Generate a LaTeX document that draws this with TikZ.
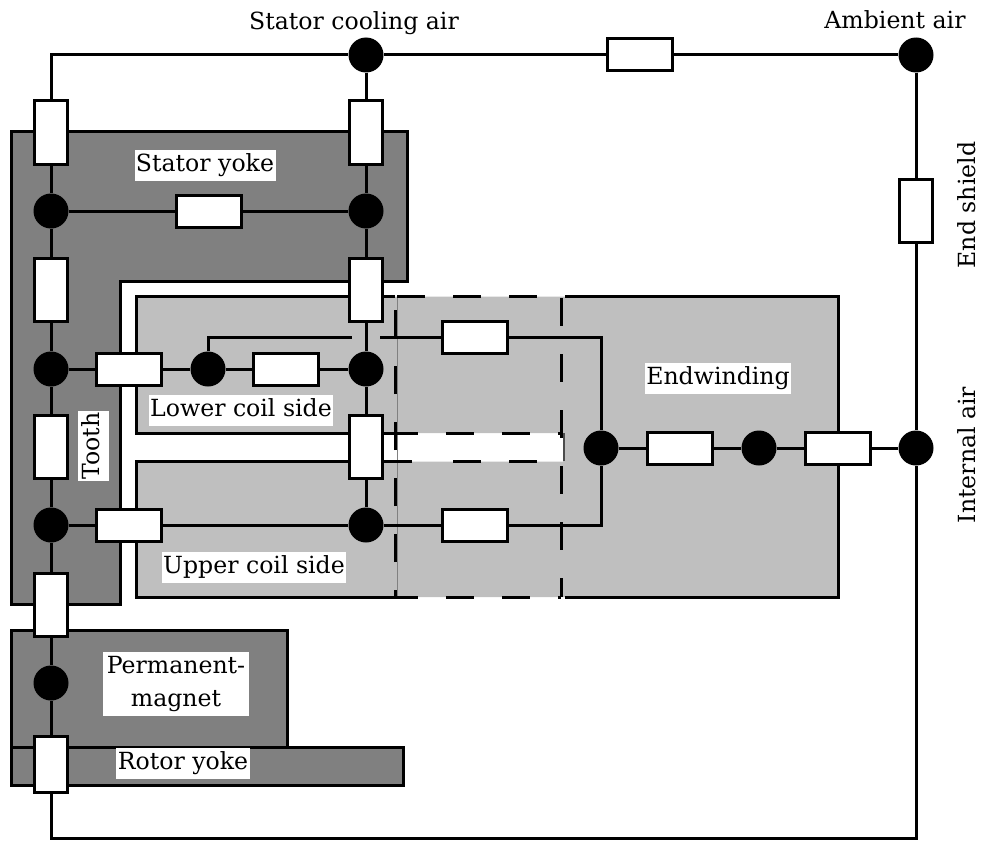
\documentclass[tikz,border=0pt]{standalone}
\usepackage{fontspec}
\setmainfont{DejaVu Serif}
\usetikzlibrary{positioning}
\tikzset{
    wire/.style={draw, line width=3pt},
    junction/.style={circle, fill=black, minimum size=35pt, inner sep=0pt},
    hres/.style={rectangle, draw, fill=white, line width=3pt, minimum width=65pt, minimum height=32pt, inner sep=0pt},
    vres/.style={rectangle, draw, fill=white, line width=3pt, minimum width=33pt, minimum height=63pt, inner sep=0pt},
    part/.style={draw, line width=3pt, fill=yokegray},
    tag/.style={fill=white, inner xsep=1.5pt, inner ysep=0.5pt, anchor=base, text height=21pt, text depth=9.5pt, font=\fontsize{23.6}{33}\selectfont},
    plaintag/.style={inner sep=0pt, anchor=base, font=\fontsize{23.6}{28}\selectfont},
    magnettag/.style={tag, text width=143pt, align=center, text depth=12pt},
    slotline/.style={line width=3pt, dash pattern=on 28pt off 28pt}
}
\definecolor{yokegray}{gray}{0.5}
\definecolor{coilgray}{gray}{0.75}
\begin{document}
\begin{tikzpicture}[x=1pt, y=-1pt]
    \useasboundingbox (0,0) rectangle (981,840);
    % iron parts
    \draw[part] (11.5,131) -- (407,131) -- (407,281) -- (120.5,281) -- (120.5,604) -- (11.5,604) -- cycle;
    \draw[part] (11.5,630) rectangle (287,747);
    \draw[part] (11.5,747) rectangle (403,785);
    % coil
    \fill[coilgray] (136,296.5) -- (838,296.5) -- (838,597) -- (136,597) -- (136,461.5) -- (563,461.5) -- (563,433) -- (136,433) -- cycle;
    \draw[line width=3pt] (395,296.5) -- (136,296.5) -- (136,433) -- (395,433);
    \draw[line width=3pt] (395,461.5) -- (136,461.5) -- (136,597) -- (395,597);
    \draw[line width=3pt] (565,296.5) -- (838,296.5) -- (838,597) -- (565,597);
    \draw[gray, line width=0.8pt] (397,296) -- (397,597);
    \draw[gray!60!black, line width=1.2pt] (564,433) -- (564,461);
    \draw[slotline] (397,296.5) -- (565,296.5);
    \draw[slotline] (384,461.5) -- (425,461.5);
    \draw[slotline] (453,461.5) -- (565,461.5);
    \draw[slotline, dash phase=5pt] (395,433) -- (563,433);
    \draw[slotline, dash phase=5pt] (395,597) -- (561,597);
    \draw[slotline, dash phase=21pt] (395,597) -- (395,296.5);
    \draw[slotline] (561,298) -- (561,597);

    % nodes of the network
    \node[junction] (SC) at (366,55) {};
    \node[junction] (AA) at (916,55) {};
    \node[junction] (YL) at (51,211) {};
    \node[junction] (YR) at (366,211) {};
    \node[junction] (TU) at (51,369) {};
    \node[junction] (LI) at (208,369) {};
    \node[junction] (LO) at (366,369) {};
    \node[junction] (TB) at (51,525) {};
    \node[junction] (UO) at (366,525) {};
    \node[junction] (PM) at (51,683) {};
    \node[junction] (EA) at (601,448) {};
    \node[junction] (EB) at (759,448) {};
    \node[junction] (IA) at (916,448) {};

    \node[hres] (R1) at (640,55) {};
    \node[vres] (R2) at (916,211) {};
    \node[vres] (R3) at (51,132.5) {};
    \node[vres] (R4) at (366,132.5) {};
    \node[hres] (R5) at (209,211) {};
    \node[vres] (R6) at (51,290) {};
    \node[vres] (R7) at (366,290) {};
    \node[hres] (R8) at (129,369) {};
    \node[hres] (R9) at (286,369) {};
    \node[hres] (R10) at (475,337) {};
    \node[vres] (R11) at (51,447) {};
    \node[vres] (R12) at (366,447) {};
    \node[hres] (R13) at (129,525) {};
    \node[hres] (R14) at (475,525) {};
    \node[hres] (R15) at (680,448) {};
    \node[hres] (R16) at (838,448) {};
    \node[vres] (R17) at (51,604.5) {};
    \node[vres, minimum height=56pt] (R18) at (51,764.5) {};

    \coordinate (CTL) at (51,55);
    \coordinate (CBL) at (51,838);
    \coordinate (CBR) at (916,838);
    \coordinate (JL) at (352,337);
    \coordinate (JR) at (380,337);

    % connections
    \draw[wire] (R3) -- (CTL) -- (SC) -- (R1) -- (AA) -- (R2) -- (IA);
    \draw[wire] (SC) -- (R4) -- (YR) -- (R7) -- (LO) -- (R12) -- (UO);
    \draw[wire] (R3) -- (YL) -- (R6) -- (TU) -- (R11) -- (TB) -- (R17) -- (PM) -- (R18) -- (CBL) -- (CBR) -- (IA);
    \draw[wire] (YL) -- (R5) -- (YR);
    \draw[wire] (TU) -- (R8) -- (LI) -- (R9) -- (LO);
    \draw[wire] (TB) -- (R13) -- (UO) -- (R14);
    \draw[wire] (LI) |- (JL);
    \draw[wire] (JR) -- (R10);
    \draw[wire] (R10) -| (EA);
    \draw[wire] (R14) -| (EA);
    \draw[wire] (EA) -- (R15) -- (EB) -- (R16) -- (IA);

    % labels
    \node[plaintag] (stator air) at (354,30) {Stator cooling air};
    \node[plaintag] (ambient air) at (895,29) {Ambient air};
    \node[plaintag, rotate=90] (end shield) at (975,205) {End shield};
    \node[plaintag, rotate=90] (internal air) at (975,455) {Internal air};
    \node[tag] (stator yoke) at (205,171) {Stator yoke};
    \node[tag] (lower coil) at (241,416) {Lower coil side};
    \node[tag] (upper coil) at (254,573) {Upper coil side};
    \node[tag, rotate=90] (tooth) at (99,446) {Tooth};
    \node[tag] (endwinding) at (718,384) {Endwinding};
    \node[magnettag] (permanent) at (176,673) {Permanent-};
    \node[magnettag, text depth=9.5pt] (magnet) at (176,706) {magnet};
    \node[tag] (rotor yoke) at (183,769) {Rotor yoke};
\end{tikzpicture}
\end{document}
